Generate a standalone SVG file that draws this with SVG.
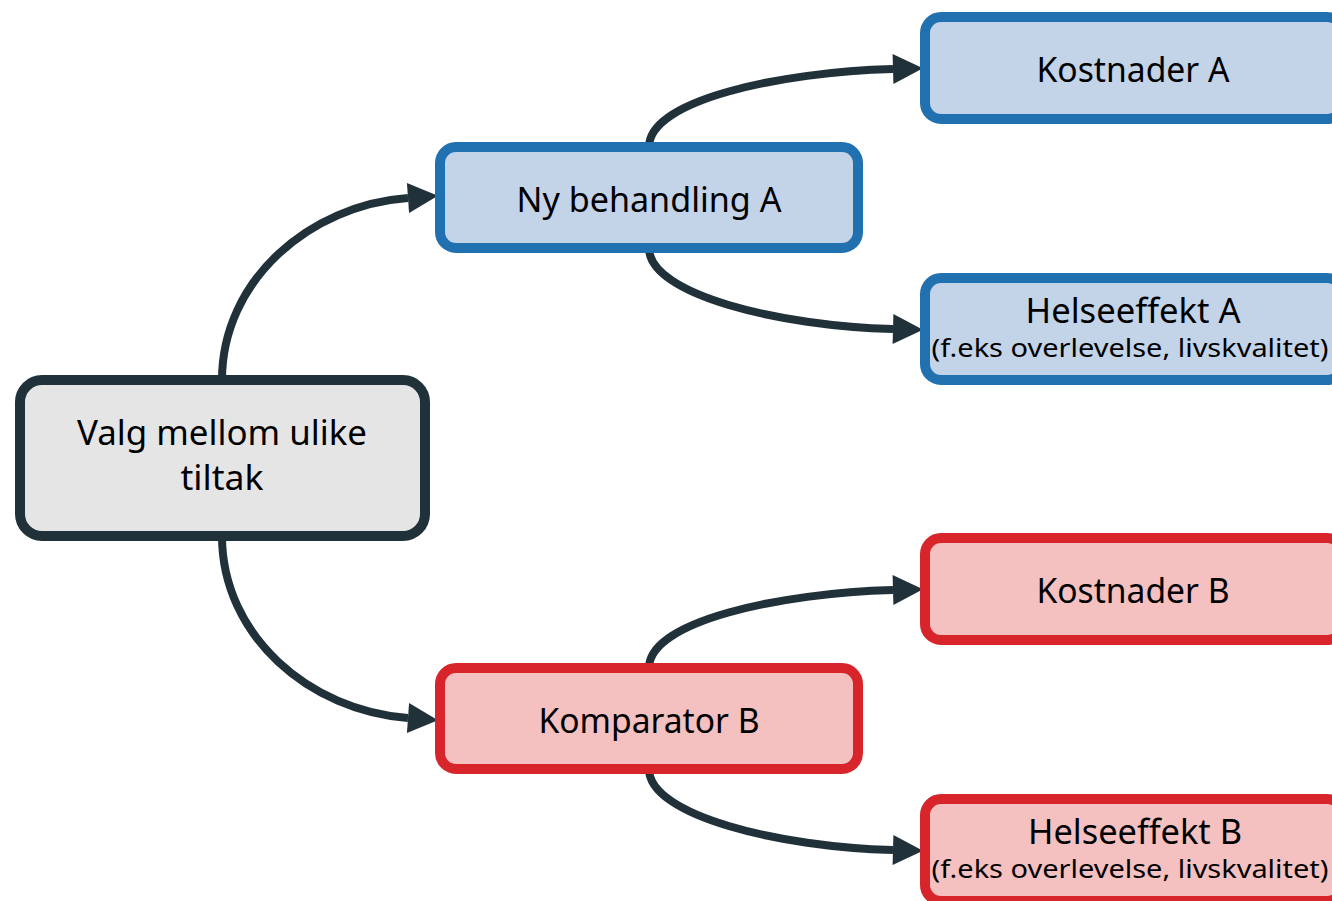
<svg xmlns="http://www.w3.org/2000/svg" width="1332" height="901" viewBox="0 0 1332 901">
<defs>
<style>
.n{stroke-width:10}
.gray{fill:#e5e5e5;stroke:#21313a}
.blue{fill:#c3d3e8;stroke:#2171b0}
.red{fill:#f4c0c0;stroke:#d7252b}
.t{font-family:"Noto Sans","DejaVu Sans",sans-serif;fill:#000;text-anchor:middle}
.big{font-size:35px}
.sm{font-size:26px}
.c{fill:none;stroke:#21313a;stroke-width:8}
</style>
<marker id="ah" markerUnits="userSpaceOnUse" markerWidth="32" markerHeight="32" refX="0" refY="15" orient="auto" overflow="visible">
<path d="M0,0 L30,15 L0,30 z" fill="#21313a"/>
</marker>
</defs>
<rect width="1332" height="901" fill="#fff"/>
<g id="connectors">
<path class="c" marker-end="url(#ah)" d="M222,380 C222,280 310,205 408,198"/>
<path class="c" marker-end="url(#ah)" d="M222,536 C222,636 310,711 408,718"/>
<path class="c" marker-end="url(#ah)" d="M649,147 C649,100 780,72 893,69"/>
<path class="c" marker-end="url(#ah)" d="M649,248 C649,295 780,326 893,329"/>
<path class="c" marker-end="url(#ah)" d="M649,668 C649,621 780,593 893,590"/>
<path class="c" marker-end="url(#ah)" d="M649,769 C649,816 780,847 893,850"/>
</g>
<g id="valg">
<rect class="n gray" x="20" y="380" width="405" height="156" rx="22"/>
<text class="t big" x="222" y="445" textLength="290" lengthAdjust="spacingAndGlyphs">Valg mellom ulike</text>
<text class="t big" x="222" y="490" textLength="83" lengthAdjust="spacingAndGlyphs">tiltak</text>
</g>
<g id="ny-behandling-a">
<rect class="n blue" x="440" y="147" width="418" height="101" rx="16"/>
<text class="t big" x="649" y="212" textLength="265" lengthAdjust="spacingAndGlyphs">Ny behandling A</text>
</g>
<g id="komparator-b">
<rect class="n red" x="440" y="668" width="418" height="101" rx="16"/>
<text class="t big" x="649" y="733" textLength="221" lengthAdjust="spacingAndGlyphs">Komparator B</text>
</g>
<g id="kostnader-a">
<rect class="n blue" x="925" y="17" width="418" height="102" rx="16"/>
<text class="t big" x="1133" y="82" textLength="193" lengthAdjust="spacingAndGlyphs">Kostnader A</text>
</g>
<g id="helseeffekt-a">
<rect class="n blue" x="925" y="278" width="418" height="102" rx="16"/>
<text class="t big" x="1133" y="323" textLength="215" lengthAdjust="spacingAndGlyphs">Helseeffekt A</text>
<text class="t sm" x="1130" y="357" textLength="397" lengthAdjust="spacingAndGlyphs">(f.eks overlevelse, livskvalitet)</text>
</g>
<g id="kostnader-b">
<rect class="n red" x="925" y="538" width="418" height="102" rx="16"/>
<text class="t big" x="1133" y="603" textLength="193" lengthAdjust="spacingAndGlyphs">Kostnader B</text>
</g>
<g id="helseeffekt-b">
<rect class="n red" x="925" y="799" width="418" height="102" rx="16"/>
<text class="t big" x="1135" y="844" textLength="214" lengthAdjust="spacingAndGlyphs">Helseeffekt B</text>
<text class="t sm" x="1130" y="878" textLength="397" lengthAdjust="spacingAndGlyphs">(f.eks overlevelse, livskvalitet)</text>
</g>
</svg>
